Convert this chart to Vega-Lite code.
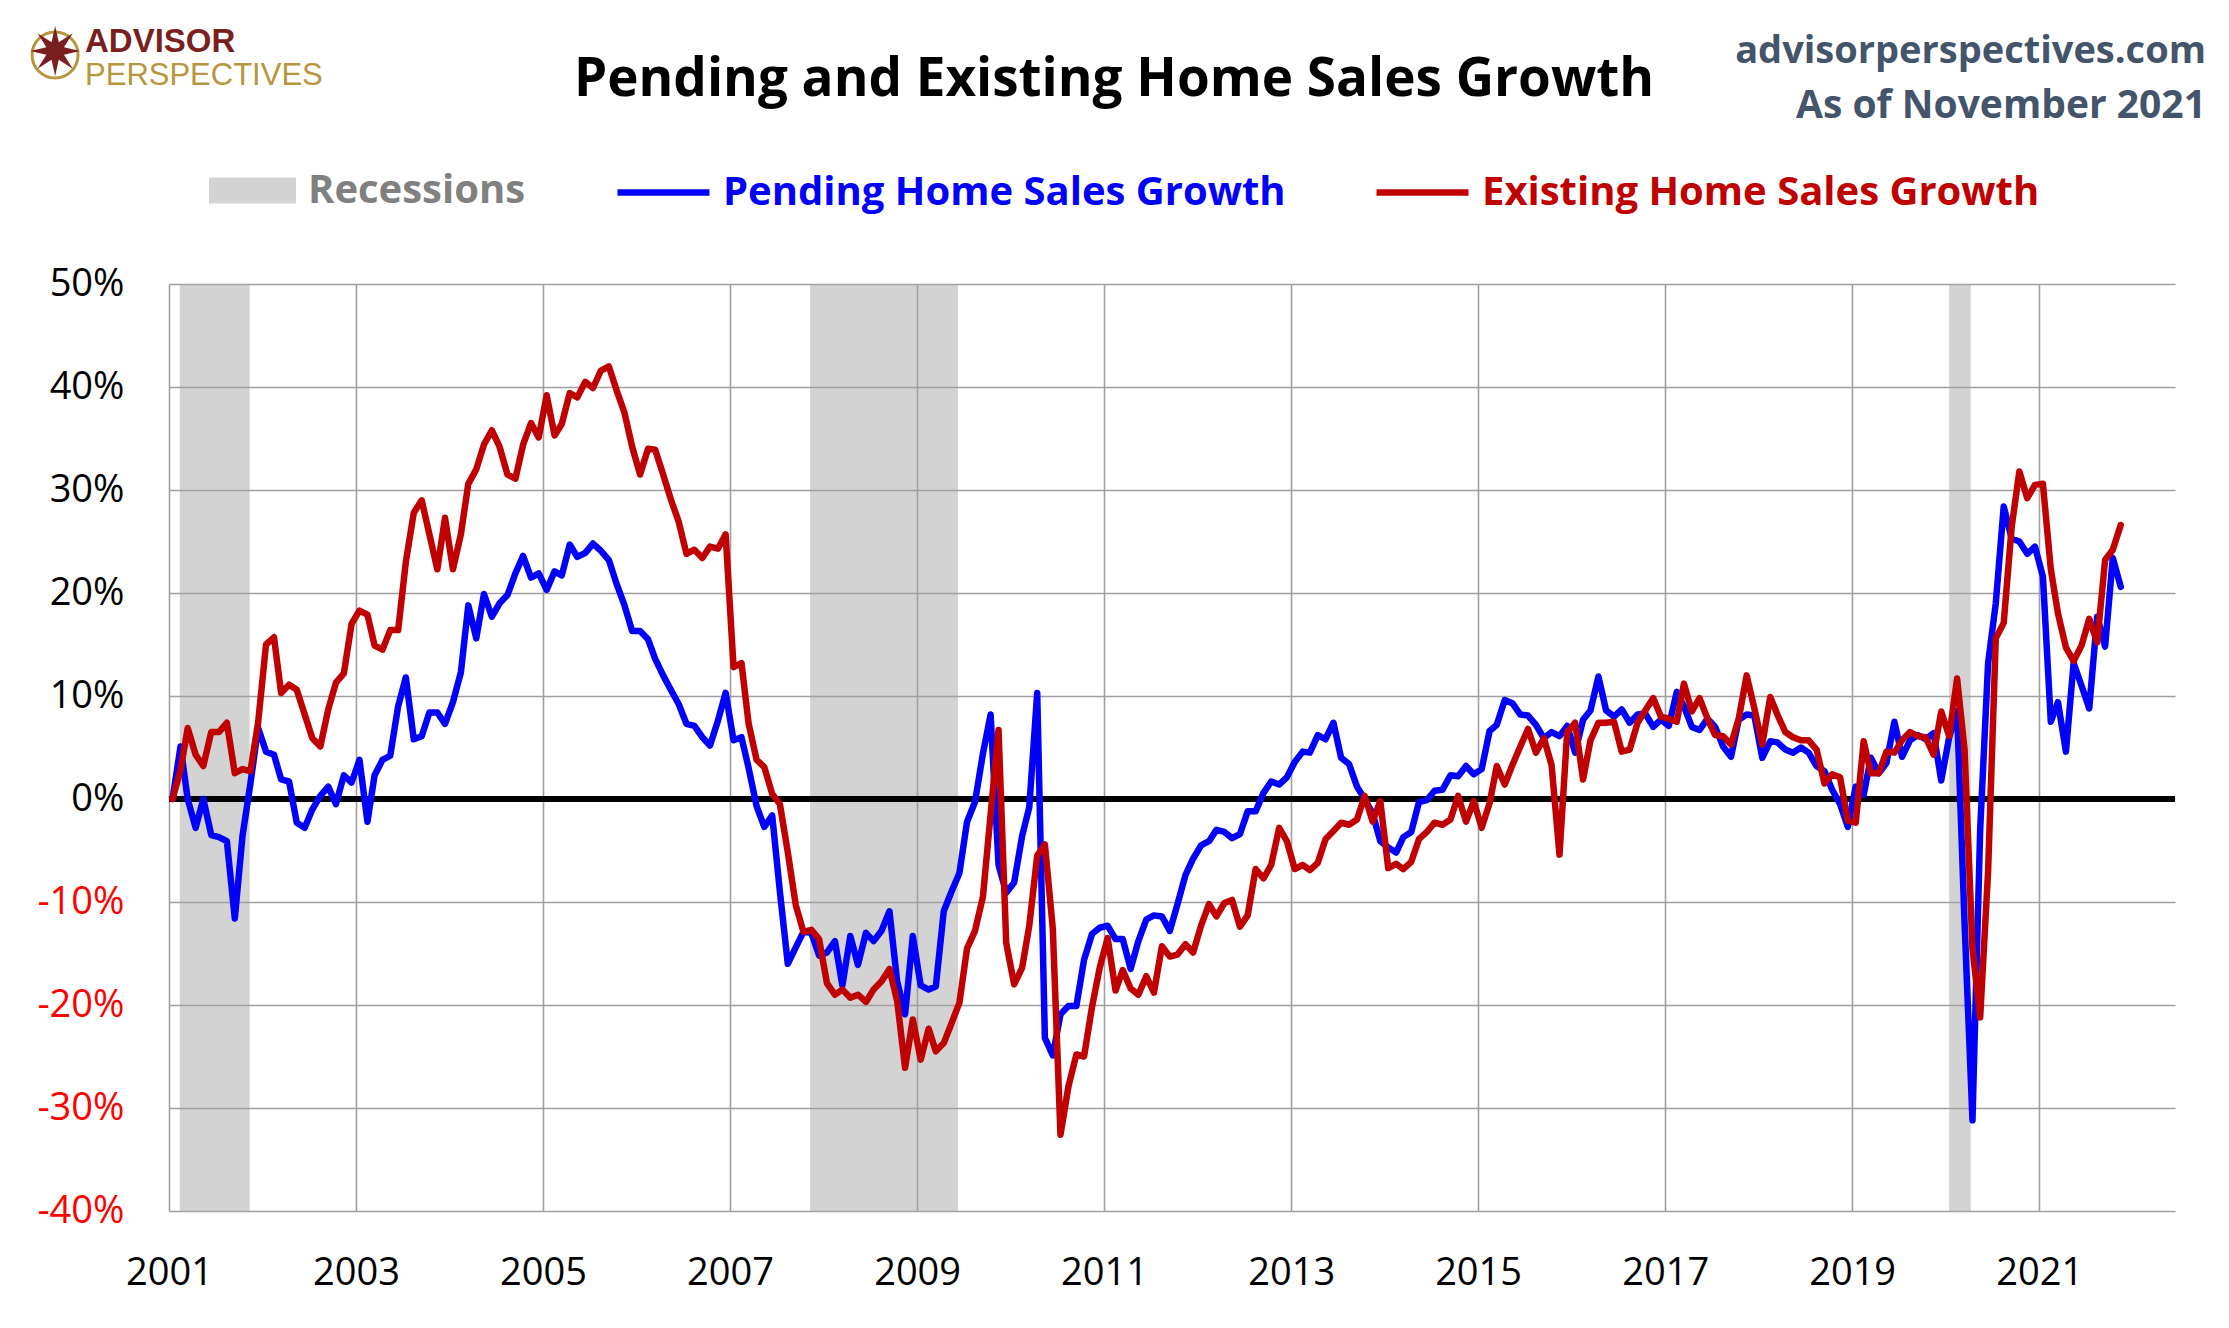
{
"$schema":"https://vega.github.io/schema/vega-lite/v6.json",
"width":2006,"height":927,
"autosize":{"type":"none"},
"padding":{"left":169,"top":284,"right":54,"bottom":117},
"background":"white",
"config":{"view":{"stroke":null},"font":"Open Sans"},
"datasets":{
"recessions":[{"start":"2001-02-12","end":"2001-11-12"},{"start":"2007-11-10","end":"2009-06-10"},{"start":"2020-01-15","end":"2020-04-08"}],
"sales":[
{"date":"2001-01-15","pending":0,"existing":0},{"date":"2001-02-15","pending":5.1,"existing":2.8},{"date":"2001-03-15","pending":0,"existing":6.9},{"date":"2001-04-15","pending":-2.8,"existing":4.3},{"date":"2001-05-15","pending":0,"existing":3.2},{"date":"2001-06-15","pending":-3.5,"existing":6.5},{"date":"2001-07-15","pending":-3.7,"existing":6.5},{"date":"2001-08-15","pending":-4.1,"existing":7.4},{"date":"2001-09-15","pending":-11.6,"existing":2.5},{"date":"2001-10-15","pending":-3.6,"existing":2.9},{"date":"2001-11-15","pending":1.5,"existing":2.7},{"date":"2001-12-15","pending":6.9,"existing":7.4},
{"date":"2002-01-15","pending":4.6,"existing":15.0},{"date":"2002-02-15","pending":4.3,"existing":15.7},{"date":"2002-03-15","pending":1.9,"existing":10.3},{"date":"2002-04-15","pending":1.7,"existing":11.1},{"date":"2002-05-15","pending":-2.3,"existing":10.6},{"date":"2002-06-15","pending":-2.8,"existing":8.2},{"date":"2002-07-15","pending":-1.0,"existing":5.9},{"date":"2002-08-15","pending":0.3,"existing":5.1},{"date":"2002-09-15","pending":1.2,"existing":8.7},{"date":"2002-10-15","pending":-0.5,"existing":11.3},{"date":"2002-11-15","pending":2.3,"existing":12.2},{"date":"2002-12-15","pending":1.6,"existing":17.0},
{"date":"2003-01-15","pending":3.8,"existing":18.3},{"date":"2003-02-15","pending":-2.2,"existing":17.9},{"date":"2003-03-15","pending":2.3,"existing":14.9},{"date":"2003-04-15","pending":3.8,"existing":14.5},{"date":"2003-05-15","pending":4.2,"existing":16.4},{"date":"2003-06-15","pending":9.0,"existing":16.4},{"date":"2003-07-15","pending":11.8,"existing":23.0},{"date":"2003-08-15","pending":5.8,"existing":27.8},{"date":"2003-09-15","pending":6.1,"existing":29.0},{"date":"2003-10-15","pending":8.4,"existing":25.7},{"date":"2003-11-15","pending":8.4,"existing":22.3},{"date":"2003-12-15","pending":7.3,"existing":27.3},
{"date":"2004-01-15","pending":9.4,"existing":22.3},{"date":"2004-02-15","pending":12.3,"existing":25.7},{"date":"2004-03-15","pending":18.8,"existing":30.6},{"date":"2004-04-15","pending":15.6,"existing":32.0},{"date":"2004-05-15","pending":19.9,"existing":34.4},{"date":"2004-06-15","pending":17.7,"existing":35.8},{"date":"2004-07-15","pending":19.0,"existing":34.2},{"date":"2004-08-15","pending":19.8,"existing":31.5},{"date":"2004-09-15","pending":21.9,"existing":31.1},{"date":"2004-10-15","pending":23.6,"existing":34.4},{"date":"2004-11-15","pending":21.5,"existing":36.5},{"date":"2004-12-15","pending":21.9,"existing":35.1},
{"date":"2005-01-15","pending":20.3,"existing":39.2},{"date":"2005-02-15","pending":22.1,"existing":35.3},{"date":"2005-03-15","pending":21.7,"existing":36.4},{"date":"2005-04-15","pending":24.7,"existing":39.4},{"date":"2005-05-15","pending":23.5,"existing":39.0},{"date":"2005-06-15","pending":23.9,"existing":40.5},{"date":"2005-07-15","pending":24.8,"existing":39.9},{"date":"2005-08-15","pending":24.1,"existing":41.6},{"date":"2005-09-15","pending":23.2,"existing":42.0},{"date":"2005-10-15","pending":20.9,"existing":39.7},{"date":"2005-11-15","pending":18.8,"existing":37.5},{"date":"2005-12-15","pending":16.3,"existing":34.2},
{"date":"2006-01-15","pending":16.3,"existing":31.5},{"date":"2006-02-15","pending":15.5,"existing":34.0},{"date":"2006-03-15","pending":13.6,"existing":33.9},{"date":"2006-04-15","pending":12.0,"existing":31.5},{"date":"2006-05-15","pending":10.6,"existing":29.1},{"date":"2006-06-15","pending":9.2,"existing":26.9},{"date":"2006-07-15","pending":7.3,"existing":23.8},{"date":"2006-08-15","pending":7.1,"existing":24.2},{"date":"2006-09-15","pending":6.0,"existing":23.4},{"date":"2006-10-15","pending":5.2,"existing":24.5},{"date":"2006-11-15","pending":7.6,"existing":24.3},{"date":"2006-12-15","pending":10.3,"existing":25.7},
{"date":"2007-01-15","pending":5.7,"existing":12.8},{"date":"2007-02-15","pending":6.0,"existing":13.2},{"date":"2007-03-15","pending":3.0,"existing":7.3},{"date":"2007-04-15","pending":-0.7,"existing":3.8},{"date":"2007-05-15","pending":-2.7,"existing":3.1},{"date":"2007-06-15","pending":-1.6,"existing":0.5},{"date":"2007-07-15","pending":-9.0,"existing":-0.5},{"date":"2007-08-15","pending":-16.0,"existing":-5.2},{"date":"2007-09-15","pending":-14.4,"existing":-10.3},{"date":"2007-10-15","pending":-12.9,"existing":-12.9},{"date":"2007-11-15","pending":-13.0,"existing":-12.7},{"date":"2007-12-15","pending":-15.2,"existing":-13.6},
{"date":"2008-01-15","pending":-14.9,"existing":-17.9},{"date":"2008-02-15","pending":-13.8,"existing":-19.0},{"date":"2008-03-15","pending":-18.1,"existing":-18.5},{"date":"2008-04-15","pending":-13.3,"existing":-19.3},{"date":"2008-05-15","pending":-16.1,"existing":-19.0},{"date":"2008-06-15","pending":-13.0,"existing":-19.7},{"date":"2008-07-15","pending":-13.8,"existing":-18.5},{"date":"2008-08-15","pending":-12.8,"existing":-17.7},{"date":"2008-09-15","pending":-10.9,"existing":-16.5},{"date":"2008-10-15","pending":-17.7,"existing":-19.6},{"date":"2008-11-15","pending":-20.9,"existing":-26.1},{"date":"2008-12-15","pending":-13.3,"existing":-21.4},
{"date":"2009-01-15","pending":-18.1,"existing":-25.3},{"date":"2009-02-15","pending":-18.5,"existing":-22.3},{"date":"2009-03-15","pending":-18.2,"existing":-24.5},{"date":"2009-04-15","pending":-10.9,"existing":-23.7},{"date":"2009-05-15","pending":-9.0,"existing":-21.8},{"date":"2009-06-15","pending":-7.2,"existing":-19.8},{"date":"2009-07-15","pending":-2.2,"existing":-14.5},{"date":"2009-08-15","pending":-0.3,"existing":-12.8},{"date":"2009-09-15","pending":4.4,"existing":-9.5},{"date":"2009-10-15","pending":8.2,"existing":-1.5},{"date":"2009-11-15","pending":-6.4,"existing":6.7},{"date":"2009-12-15","pending":-9.1,"existing":-14.0},
{"date":"2010-01-15","pending":-8.1,"existing":-18.0},{"date":"2010-02-15","pending":-3.6,"existing":-16.4},{"date":"2010-03-15","pending":-0.8,"existing":-12.3},{"date":"2010-04-15","pending":10.3,"existing":-5.5},{"date":"2010-05-15","pending":-23.2,"existing":-4.4},{"date":"2010-06-15","pending":-24.9,"existing":-12.6},{"date":"2010-07-15","pending":-20.9,"existing":-32.6},{"date":"2010-08-15","pending":-20.1,"existing":-27.9},{"date":"2010-09-15","pending":-20.1,"existing":-24.8},{"date":"2010-10-15","pending":-15.6,"existing":-25.0},{"date":"2010-11-15","pending":-13.1,"existing":-20.2},{"date":"2010-12-15","pending":-12.5,"existing":-16.4},
{"date":"2011-01-15","pending":-12.3,"existing":-13.5},{"date":"2011-02-15","pending":-13.6,"existing":-18.6},{"date":"2011-03-15","pending":-13.6,"existing":-16.6},{"date":"2011-04-15","pending":-16.5,"existing":-18.4},{"date":"2011-05-15","pending":-13.8,"existing":-19.0},{"date":"2011-06-15","pending":-11.7,"existing":-17.2},{"date":"2011-07-15","pending":-11.3,"existing":-18.8},{"date":"2011-08-15","pending":-11.4,"existing":-14.3},{"date":"2011-09-15","pending":-12.8,"existing":-15.3},{"date":"2011-10-15","pending":-10.2,"existing":-15.1},{"date":"2011-11-15","pending":-7.4,"existing":-14.1},{"date":"2011-12-15","pending":-5.8,"existing":-14.9},
{"date":"2012-01-15","pending":-4.5,"existing":-12.3},{"date":"2012-02-15","pending":-4.1,"existing":-10.2},{"date":"2012-03-15","pending":-3.0,"existing":-11.4},{"date":"2012-04-15","pending":-3.2,"existing":-10.1},{"date":"2012-05-15","pending":-3.8,"existing":-9.8},{"date":"2012-06-15","pending":-3.4,"existing":-12.4},{"date":"2012-07-15","pending":-1.2,"existing":-11.3},{"date":"2012-08-15","pending":-1.2,"existing":-6.8},{"date":"2012-09-15","pending":0.6,"existing":-7.7},{"date":"2012-10-15","pending":1.7,"existing":-6.4},{"date":"2012-11-15","pending":1.4,"existing":-2.8},{"date":"2012-12-15","pending":2.1,"existing":-4.1},
{"date":"2013-01-15","pending":3.6,"existing":-6.8},{"date":"2013-02-15","pending":4.6,"existing":-6.4},{"date":"2013-03-15","pending":4.5,"existing":-6.9},{"date":"2013-04-15","pending":6.2,"existing":-6.2},{"date":"2013-05-15","pending":5.8,"existing":-3.9},{"date":"2013-06-15","pending":7.4,"existing":-3.1},{"date":"2013-07-15","pending":4.0,"existing":-2.3},{"date":"2013-08-15","pending":3.4,"existing":-2.5},{"date":"2013-09-15","pending":1.2,"existing":-2.0},{"date":"2013-10-15","pending":0.0,"existing":0.3},{"date":"2013-11-15","pending":-1.4,"existing":-2.2},{"date":"2013-12-15","pending":-4.1,"existing":-0.2},
{"date":"2014-01-15","pending":-4.7,"existing":-6.7},{"date":"2014-02-15","pending":-5.2,"existing":-6.3},{"date":"2014-03-15","pending":-3.7,"existing":-6.8},{"date":"2014-04-15","pending":-3.2,"existing":-6.1},{"date":"2014-05-15","pending":-0.3,"existing":-3.9},{"date":"2014-06-15","pending":-0.1,"existing":-3.2},{"date":"2014-07-15","pending":0.8,"existing":-2.3},{"date":"2014-08-15","pending":0.9,"existing":-2.5},{"date":"2014-09-15","pending":2.3,"existing":-2.0},{"date":"2014-10-15","pending":2.2,"existing":0.3},{"date":"2014-11-15","pending":3.2,"existing":-2.2},{"date":"2014-12-15","pending":2.4,"existing":-0.2},
{"date":"2015-01-15","pending":2.9,"existing":-2.8},{"date":"2015-02-15","pending":6.6,"existing":-0.4},{"date":"2015-03-15","pending":7.2,"existing":3.2},{"date":"2015-04-15","pending":9.6,"existing":1.4},{"date":"2015-05-15","pending":9.3,"existing":3.3},{"date":"2015-06-15","pending":8.2,"existing":5.1},{"date":"2015-07-15","pending":8.1,"existing":6.8},{"date":"2015-08-15","pending":7.2,"existing":4.5},{"date":"2015-09-15","pending":5.9,"existing":5.9},{"date":"2015-10-15","pending":6.5,"existing":3.3},{"date":"2015-11-15","pending":6.1,"existing":-5.4},{"date":"2015-12-15","pending":7.1,"existing":6.5},
{"date":"2016-01-15","pending":4.5,"existing":7.4},{"date":"2016-02-15","pending":7.7,"existing":1.9},{"date":"2016-03-15","pending":8.6,"existing":5.7},{"date":"2016-04-15","pending":11.9,"existing":7.4},{"date":"2016-05-15","pending":8.6,"existing":7.4},{"date":"2016-06-15","pending":8.0,"existing":7.5},{"date":"2016-07-15","pending":8.7,"existing":4.6},{"date":"2016-08-15","pending":7.4,"existing":4.8},{"date":"2016-09-15","pending":8.2,"existing":7.4},{"date":"2016-10-15","pending":8.3,"existing":8.6},{"date":"2016-11-15","pending":7.0,"existing":9.8},{"date":"2016-12-15","pending":7.7,"existing":8.0},
{"date":"2017-01-15","pending":7.1,"existing":7.8},{"date":"2017-02-15","pending":10.4,"existing":7.5},{"date":"2017-03-15","pending":9.0,"existing":11.2},{"date":"2017-04-15","pending":7.0,"existing":8.5},{"date":"2017-05-15","pending":6.7,"existing":9.8},{"date":"2017-06-15","pending":7.8,"existing":7.8},{"date":"2017-07-15","pending":7.0,"existing":6.2},{"date":"2017-08-15","pending":5.1,"existing":6.1},{"date":"2017-09-15","pending":4.1,"existing":5.3},{"date":"2017-10-15","pending":7.7,"existing":7.8},{"date":"2017-11-15","pending":8.2,"existing":12.0},{"date":"2017-12-15","pending":8.1,"existing":8.8},
{"date":"2018-01-15","pending":4.0,"existing":5.3},{"date":"2018-02-15","pending":5.6,"existing":9.9},{"date":"2018-03-15","pending":5.5,"existing":8.2},{"date":"2018-04-15","pending":4.8,"existing":6.5},{"date":"2018-05-15","pending":4.5,"existing":6.0},{"date":"2018-06-15","pending":5.0,"existing":5.7},{"date":"2018-07-15","pending":4.5,"existing":5.7},{"date":"2018-08-15","pending":3.2,"existing":4.8},{"date":"2018-09-15","pending":2.7,"existing":1.5},{"date":"2018-10-15","pending":0.9,"existing":2.4},{"date":"2018-11-15","pending":-0.5,"existing":2.1},{"date":"2018-12-15","pending":-2.7,"existing":-2.1},
{"date":"2019-01-15","pending":1.2,"existing":-2.3},{"date":"2019-02-15","pending":0.4,"existing":5.6},{"date":"2019-03-15","pending":4.0,"existing":2.5},{"date":"2019-04-15","pending":2.5,"existing":2.5},{"date":"2019-05-15","pending":3.5,"existing":4.6},{"date":"2019-06-15","pending":7.5,"existing":4.5},{"date":"2019-07-15","pending":4.1,"existing":5.7},{"date":"2019-08-15","pending":5.7,"existing":6.5},{"date":"2019-09-15","pending":6.2,"existing":6.1},{"date":"2019-10-15","pending":5.8,"existing":6.0},{"date":"2019-11-15","pending":6.4,"existing":4.3},{"date":"2019-12-15","pending":1.8,"existing":8.5},
{"date":"2020-01-15","pending":6.0,"existing":6.1},{"date":"2020-02-15","pending":8.5,"existing":11.7},{"date":"2020-03-15","pending":-12.0,"existing":4.8},{"date":"2020-04-15","pending":-31.2,"existing":-14.5},{"date":"2020-05-15","pending":-3.0,"existing":-21.2},{"date":"2020-06-15","pending":13.2,"existing":-7.0},{"date":"2020-07-15","pending":19.0,"existing":15.6},{"date":"2020-08-15","pending":28.4,"existing":17.1},{"date":"2020-09-15","pending":25.3,"existing":26.4},{"date":"2020-10-15","pending":25.0,"existing":31.8},{"date":"2020-11-15","pending":23.8,"existing":29.2},{"date":"2020-12-15","pending":24.5,"existing":30.5},
{"date":"2021-01-15","pending":21.6,"existing":30.6},{"date":"2021-02-15","pending":7.5,"existing":22.3},{"date":"2021-03-15","pending":9.4,"existing":18.0},{"date":"2021-04-15","pending":4.6,"existing":14.7},{"date":"2021-05-15","pending":13.2,"existing":13.4},{"date":"2021-06-15","pending":11.0,"existing":14.9},{"date":"2021-07-15","pending":8.8,"existing":17.5},{"date":"2021-08-15","pending":17.7,"existing":15.2},{"date":"2021-09-15","pending":14.8,"existing":23.2},{"date":"2021-10-15","pending":23.4,"existing":24.2},{"date":"2021-11-15","pending":20.6,"existing":26.6}
]},
"layer":[
{"data":{"name":"recessions"},
 "mark":{"type":"rect","opacity":0.463},
 "encoding":{
  "x":{"field":"start","type":"temporal","scale":{"domain":[{"year":2001,"month":1,"date":1},{"year":2022,"month":6,"date":15}]}},
  "x2":{"field":"end"},
  "fill":{"datum":"Recessions","scale":{"range":["#A0A0A0"]},
   "legend":{"orient":"none","legendX":40,"legendY":-137,"title":null,"padding":0,"symbolType":"M-1,-0.3H1V0.3H-1Z","symbolSize":7569,"symbolOpacity":0.463,"symbolStrokeWidth":0,"labelFont":"Open Sans","labelFontSize":40,"labelFontWeight":"bold","labelColor":"#808080","labelOffset":12,"labelLimit":1000}}
 }},
{"data":{"values":[{}]},
 "mark":{"type":"rule","color":"#000000","strokeWidth":6},
 "encoding":{"y":{"datum":0,"type":"quantitative"}}},
{"data":{"name":"sales"},
 "mark":{"type":"line","strokeWidth":6.5,"strokeJoin":"round","strokeCap":"round"},
 "encoding":{
  "x":{"field":"date","type":"temporal","scale":{"domain":[{"year":2001,"month":1,"date":1},{"year":2022,"month":6,"date":15}]},
   "axis":{"values":[{"year":2001},{"year":2003},{"year":2005},{"year":2007},{"year":2009},{"year":2011},{"year":2013},{"year":2015},{"year":2017},{"year":2019},{"year":2021}],"format":"%Y","title":null,"grid":true,"gridColor":"#A0A0A0","gridWidth":1.6,"domain":false,"ticks":false,"labelFont":"Open Sans","labelFontSize":38,"labelColor":"#000000","labelPadding":43,"labelFlush":false}},
  "y":{"field":"pending","type":"quantitative","scale":{"domain":[-40,50],"nice":false,"zero":false},
   "axis":{"values":[-40,-30,-20,-10,0,10,20,30,40,50],"labelExpr":"datum.value + '%'","title":null,"grid":true,"gridColor":"#A0A0A0","gridWidth":1.6,"domain":false,"ticks":false,"labelFont":"Open Sans","labelFontSize":38,"labelPadding":45,"labelColor":{"condition":{"test":"datum.value < 0","value":"#FF0000"},"value":"#000000"}}},
  "color":{"datum":"Pending Home Sales Growth","scale":{"range":["#0000FF"]},
   "legend":{"orient":"none","legendX":445,"legendY":-141,"title":null,"padding":0,"symbolType":"stroke","symbolSize":8464,"symbolStrokeWidth":6.5,"labelFont":"Open Sans","labelFontSize":40,"labelFontWeight":"bold","labelColor":"#0000FF","labelOffset":10,"labelLimit":1000}}
 }},
{"data":{"name":"sales"},
 "mark":{"type":"line","strokeWidth":6.5,"strokeJoin":"round","strokeCap":"round"},
 "encoding":{
  "x":{"field":"date","type":"temporal"},
  "y":{"field":"existing","type":"quantitative","axis":{"values":[-40,-30,-20,-10,0,10,20,30,40,50],"labelExpr":"datum.value + '%'","title":null,"grid":true,"gridColor":"#A0A0A0","gridWidth":1.6,"domain":false,"ticks":false,"labelFont":"Open Sans","labelFontSize":38,"labelPadding":45,"labelColor":{"condition":{"test":"datum.value < 0","value":"#FF0000"},"value":"#000000"}}},
  "stroke":{"datum":"Existing Home Sales Growth","scale":{"range":["#C00000"]},
   "legend":{"orient":"none","legendX":1204,"legendY":-141,"title":null,"padding":0,"symbolType":"stroke","symbolSize":8464,"symbolStrokeWidth":6.5,"labelFont":"Open Sans","labelFontSize":40,"labelFontWeight":"bold","labelColor":"#C00000","labelOffset":10,"labelLimit":1000}}
 }},
{"data":{"values":[{}]},
 "mark":{"type":"text","text":"Pending and Existing Home Sales Growth","font":"Open Sans","fontSize":53,"fontWeight":"bold","color":"#000000","align":"center","baseline":"alphabetic"},
 "encoding":{"x":{"datum":{"year":2011,"month":2,"date":9},"type":"temporal"},"y":{"datum":68.25,"type":"quantitative"}}},
{"data":{"values":[{}]},
 "mark":{"type":"text","text":"advisorperspectives.com","font":"Open Sans","fontSize":38,"fontWeight":"bold","color":"#44546A","align":"right","baseline":"alphabetic"},
 "encoding":{"x":{"datum":{"year":2022,"month":10,"date":14},"type":"temporal"},"y":{"datum":71.46,"type":"quantitative"}}},
{"data":{"values":[{}]},
 "mark":{"type":"text","text":"As of November 2021","font":"Open Sans","fontSize":39,"fontWeight":"bold","color":"#44546A","align":"right","baseline":"alphabetic"},
 "encoding":{"x":{"datum":{"year":2022,"month":10,"date":14},"type":"temporal"},"y":{"datum":66.12,"type":"quantitative"}}},
{"data":{"values":[{}]},
 "mark":{"type":"point","shape":"circle","filled":false,"size":2116,"stroke":"#B8963E","strokeWidth":3,"opacity":1},
 "encoding":{"x":{"datum":{"year":1999,"month":10,"date":14},"type":"temporal"},"y":{"datum":72.23,"type":"quantitative"}}},
{"data":{"values":[{}]},
 "mark":{"type":"text","text":"✷","font":"DejaVu Sans","fontSize":66,"color":"#7A1F1F","align":"center","baseline":"middle"},
 "encoding":{"x":{"datum":{"year":1999,"month":10,"date":14},"type":"temporal"},"y":{"datum":72.23,"type":"quantitative"}}},
{"data":{"values":[{}]},
 "mark":{"type":"text","text":"ADVISOR","font":"Liberation Sans","fontSize":33,"fontWeight":"bold","color":"#7A1F1F","align":"left","baseline":"alphabetic"},
 "encoding":{"x":{"datum":{"year":2000,"month":2,"date":8},"type":"temporal"},"y":{"datum":72.52,"type":"quantitative"}}},
{"data":{"values":[{}]},
 "mark":{"type":"text","text":"PERSPECTIVES","font":"Liberation Sans","fontSize":31,"color":"#B8963E","align":"left","baseline":"alphabetic"},
 "encoding":{"x":{"datum":{"year":2000,"month":2,"date":8},"type":"temporal"},"y":{"datum":69.32,"type":"quantitative"}}}
]
}
